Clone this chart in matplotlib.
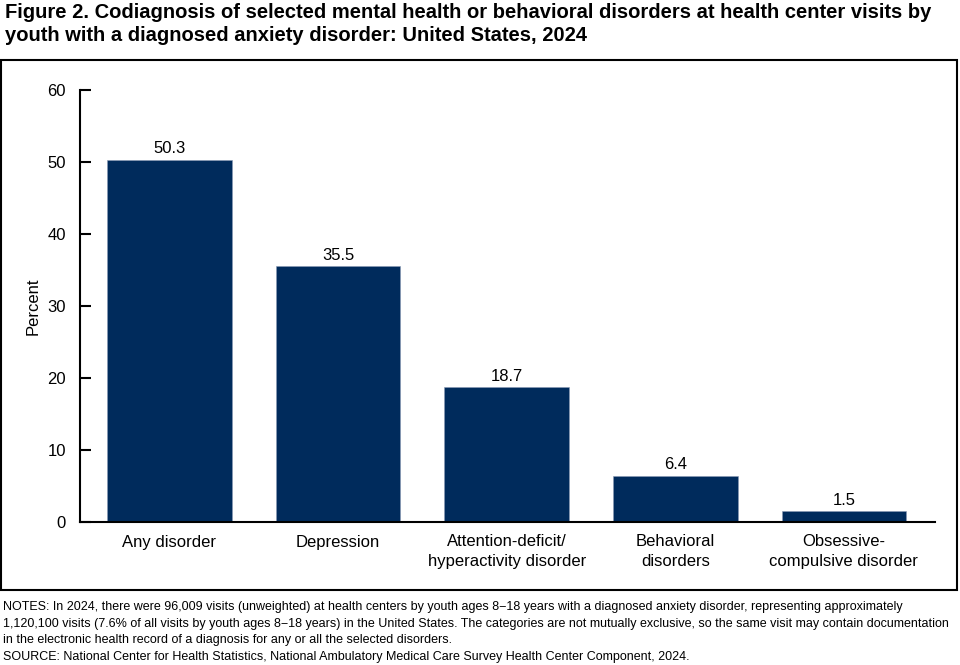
import matplotlib
matplotlib.use('Agg')
import matplotlib.pyplot as plt
from matplotlib.patches import Rectangle

plt.rcParams['font.family'] = ['Liberation Sans', 'DejaVu Sans']

categories = ['Any disorder', 'Depression', 'Attention-deficit/\nhyperactivity disorder',
              'Behavioral\ndisorders', 'Obsessive-\ncompulsive disorder']
values = [50.3, 35.5, 18.7, 6.4, 1.5]
yticks = [0, 10, 20, 30, 40, 50, 60]

title = ('Figure 2. Codiagnosis of selected mental health or behavioral disorders at health center visits by\n'
         'youth with a diagnosed anxiety disorder: United States, 2024')
notes = [
    'NOTES: In 2024, there were 96,009 visits (unweighted) at health centers by youth ages 8\u221218 years with a diagnosed anxiety disorder, representing approximately',
    '1,120,100 visits (7.6% of all visits by youth ages 8\u221218 years) in the United States. The categories are not mutually exclusive, so the same visit may contain documentation',
    'in the electronic health record of a diagnosis for any or all the selected disorders.',
    'SOURCE: National Center for Health Statistics, National Ambulatory Medical Care Survey Health Center Component, 2024.',
]

W, H = 960, 665
fig = plt.figure(figsize=(W / 100, H / 100), dpi=100)

# frame around the chart area
fig.patches.append(Rectangle((1 / W, 1 - 590 / H), 956 / W, 530 / H, transform=fig.transFigure,
                             fill=False, edgecolor='black', linewidth=1.5))

fig.text(5 / W, 1 - 3 / H, title, ha='left', va='top', fontsize=14.5, fontweight='bold',
         linespacing=1.25)

ax = fig.add_axes([80 / W, 1 - 522 / H, 855 / W, 432 / H])
x = range(len(categories))
bars = ax.bar(x, values, width=0.74, color='#002b5c', edgecolor='#8a9bb5', linewidth=0.4)
for xi, v in zip(x, values):
    ax.text(xi, v + 0.5, f'{v:.1f}', ha='center', va='bottom', fontsize=12)

ax.set_xlim(-0.53, 4.54)
ax.set_ylim(0, 60)
ax.set_yticks(yticks)
ax.set_xticks(list(x))
ax.set_xticklabels(categories, fontsize=12, linespacing=1.38)
ax.tick_params(axis='x', length=0, pad=9)
ax.tick_params(axis='y', direction='in', length=8, width=1.5, labelsize=12, pad=10)
ax.set_ylabel('Percent', fontsize=12, labelpad=5)
for s in ['top', 'right']:
    ax.spines[s].set_visible(False)
ax.spines['left'].set_linewidth(1.5)
ax.spines['bottom'].set_linewidth(1.5)

for i, line in enumerate(notes):
    fig.text(3 / W, 1 - (607 + i * 16.7) / H, line, ha='left', va='center', fontsize=8.98)

fig.savefig('out.png', dpi=100)
